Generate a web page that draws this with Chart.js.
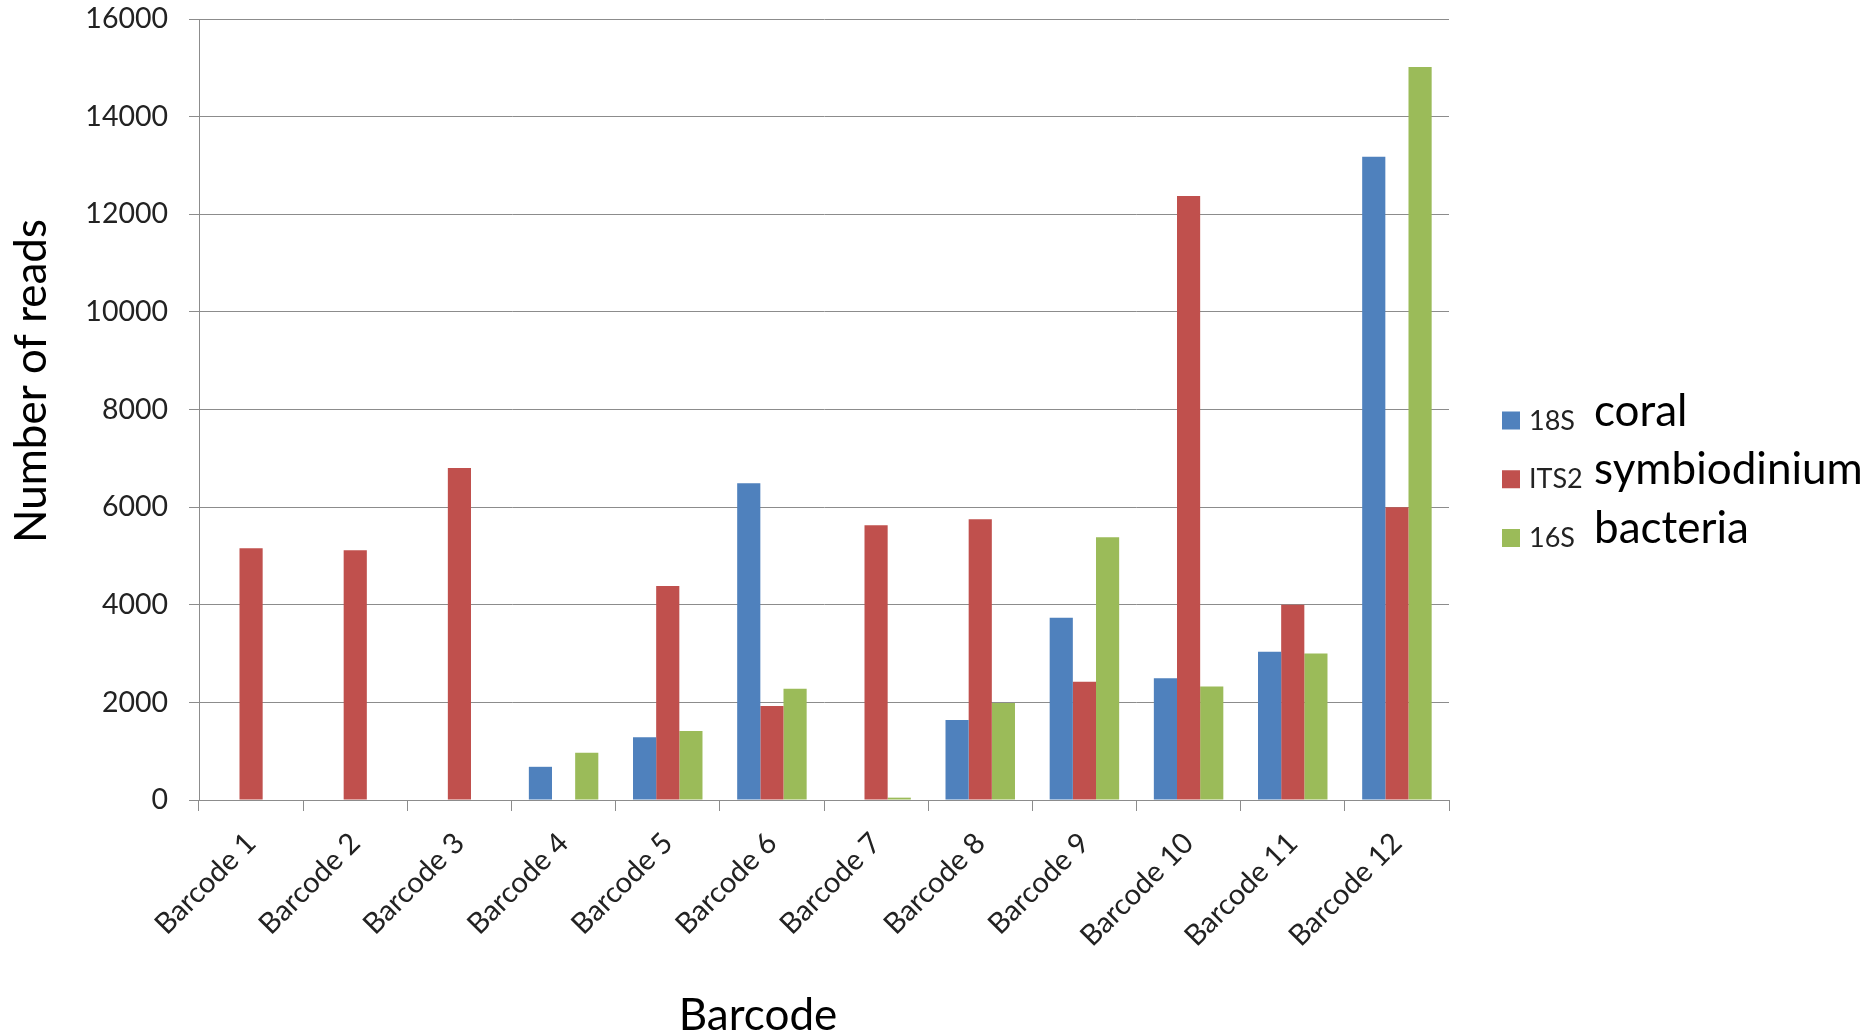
<!DOCTYPE html>
<html>
<head>
<meta charset="utf-8">
<script src="https://cdn.jsdelivr.net/npm/chart.js@4/dist/chart.umd.min.js"></script>
<style>
html,body{margin:0;padding:0;background:#fff;overflow:hidden}
#wrap{width:1876px;height:1036px;position:relative}
</style>
</head>
<body>
<div id="wrap"><canvas id="c" width="1876" height="1036"></canvas></div>
<script>
// ---- data ----
const categories = ['Barcode 1','Barcode 2','Barcode 3','Barcode 4','Barcode 5','Barcode 6','Barcode 7','Barcode 8','Barcode 9','Barcode 10','Barcode 11','Barcode 12'];
const coral18S = [0, 0, 0, 680, 1285, 6490, 0, 1640, 3735, 2496, 3035, 13178];
const symbiodiniumITS2 = [5158, 5117, 6803, 0, 4385, 1926, 5628, 5751, 2422, 12374, 3998, 5997];
const bacteria16S = [0, 0, 0, 970, 1414, 2281, 48, 1985, 5385, 2327, 3003, 15018];
const seriesMarkers = ['18S', 'ITS2', '16S'];
const seriesNames = ['coral', 'symbiodinium', 'bacteria'];
const yTickValues = [0, 2000, 4000, 6000, 8000, 10000, 12000, 14000, 16000];
const xTitle = 'Barcode';
const yTitle = 'Number of reads';

const colors = ['#4F81BD', '#C0504D', '#9BBB59'];
const gridColor = '#8c8c8c';
const FONT = 'Lato';

const customText = {
  id: 'customText',
  afterDraw(chart) {
    const ctx = chart.ctx;
    const a = chart.chartArea;
    ctx.save();
    ctx.fillStyle = '#000';
    // x axis title
    ctx.font = '44px ' + FONT;
    ctx.textAlign = 'center';
    ctx.textBaseline = 'alphabetic';
    ctx.fillText(xTitle, a.left + 559, a.bottom + 230);
    // y axis title
    ctx.save();
    ctx.translate(a.left - 153, a.top + 362);
    ctx.rotate(-Math.PI / 2);
    ctx.fillText(yTitle, 0, 0);
    ctx.restore();
    // legend
    chart.data.datasets.forEach((ds, i) => {
      const cy = a.top + 401.5 + i * 58.75;
      ctx.fillStyle = ds.backgroundColor;
      ctx.fillRect(a.right + 53, cy - 9, 18, 18);
      ctx.fillStyle = '#222';
      ctx.textAlign = 'left';
      ctx.font = '27px ' + FONT;
      ctx.fillText(seriesMarkers[i], a.right + 80, cy + 9);
      ctx.fillStyle = '#000';
      ctx.font = '44px ' + FONT;
      ctx.fillText(seriesNames[i], a.right + 145, cy + 5);
    });
    ctx.restore();
  }
};

const seriesData = [coral18S, symbiodiniumITS2, bacteria16S];

new Chart(document.getElementById('c'), {
  type: 'bar',
  data: {
    labels: categories,
    datasets: seriesData.map((d, i) => ({
      label: seriesMarkers[i] + ' ' + seriesNames[i],
      data: d,
      backgroundColor: colors[i],
      borderWidth: 0,
      categoryPercentage: 0.667,
      barPercentage: 1.0
    }))
  },
  options: {
    responsive: false,
    animation: false,
    layout: { padding: { left: 0, right: 427, top: 19, bottom: 0 } },
    plugins: { legend: { display: false }, tooltip: { enabled: false } },
    scales: {
      x: {
        grid: { display: true, drawOnChartArea: false, drawTicks: true, tickLength: 11, color: gridColor, offset: true },
        border: { color: gridColor, width: 1 },
        ticks: { autoSkip: false, minRotation: 45, maxRotation: 45, padding: 15, color: '#222', font: { family: FONT, size: 29 } },
        afterFit(s) { s.height = 236; }
      },
      y: {
        min: 0,
        max: 16000,
        afterBuildTicks(s) { s.ticks = yTickValues.map(v => ({ value: v })); },
        grid: { color: gridColor, tickLength: 10 },
        border: { color: gridColor, width: 1 },
        ticks: { padding: 21, color: '#222', font: { family: FONT, size: 28.5 }, callback: (v) => String(v) },
        afterFit(s) { s.width = 199; s.paddingTop = 0; s.paddingBottom = 0; }
      }
    }
  },
  plugins: [customText]
});
</script>
</body>
</html>
